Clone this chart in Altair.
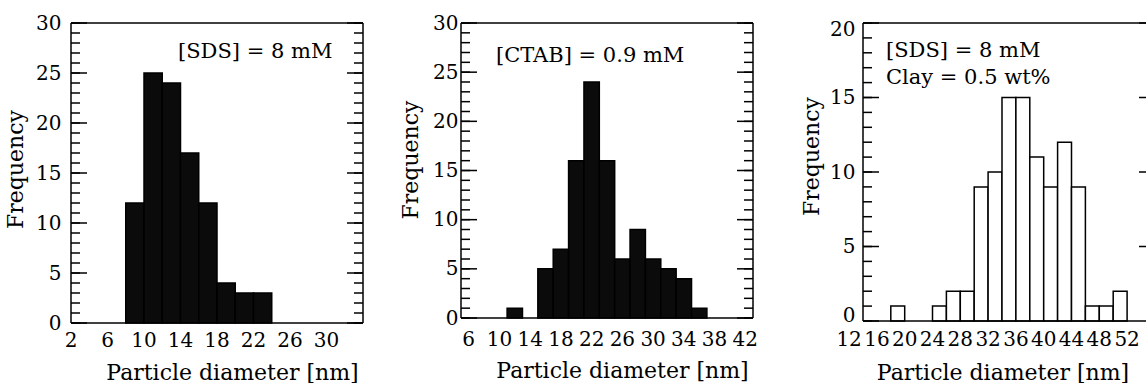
import altair as alt
import pandas as pd

FONT = "DejaVu Serif"

# ---- data ----
bin_width = 2
p1_bin_start = [8, 10, 12, 14, 16, 18, 20, 22]
p1_freq = [12, 25, 24, 17, 12, 4, 3, 3]
p2_bin_start = [11, 15, 17, 19, 21, 23, 25, 27, 29, 31, 33, 35]
p2_freq = [1, 5, 7, 16, 24, 16, 6, 9, 6, 5, 4, 1]
p3_bin_start = [18, 24, 26, 28, 30, 32, 34, 36, 38, 40, 42, 44, 46, 48, 50]
p3_freq = [1, 1, 2, 2, 9, 10, 15, 15, 11, 9, 12, 9, 1, 1, 2]

p1_xticks = [2, 6, 10, 14, 18, 22, 26, 30]
p2_xticks = [6, 10, 14, 18, 22, 26, 30, 34, 38, 42]
p3_xticks = [12, 16, 20, 24, 28, 32, 36, 40, 44, 48, 52]
y30_major = [0, 5, 10, 15, 20, 25, 30]
y30_minor = list(range(0, 31))
y20_major = [0, 5, 10, 15, 20]
y20_minor = list(range(0, 21))

p1_notes = ["[SDS] = 8 mM"]
p2_notes = ["[CTAB] = 0.9 mM"]
p3_notes = ["[SDS] = 8 mM", "Clay = 0.5 wt%"]


def panel(starts, freqs, xdomain, ydomain, xticks, ymajor, yminor, width, height,
          fill, notes, note_x, note_y, xlabel_dy, label_pad, ytitle_pad, ytitle_shift,
          xtitle_pad, xtitle_shift, right_full=True, flush=False):
    xs = alt.Scale(domain=xdomain, nice=False, zero=False)
    ys = alt.Scale(domain=ydomain, nice=False)
    xaxis = alt.Axis(title="Particle diameter [nm]", labels=False,
                     ticks=False, tickSize=0, domain=False, grid=False,
                     titlePadding=xtitle_pad, titleX=width / 2 + xtitle_shift)
    yopts = dict(title="Frequency", values=ymajor, format="d",
                 ticks=False, tickSize=0, labelPadding=label_pad,
                 domain=False, grid=False, titlePadding=ytitle_pad,
                 titleY=height / 2 + ytitle_shift)
    if flush:
        yopts.update(labelFlush=True, labelFlushOffset=4)
    yaxis = alt.Axis(**yopts)
    bars = (
        alt.Chart(pd.DataFrame({"start": starts, "freq": freqs}))
        .transform_calculate(end=f"datum.start + {bin_width}")
        .mark_bar(fill=fill, stroke="black", strokeWidth=1.5)
        .encode(
            x=alt.X("start:Q", scale=xs, axis=xaxis, title="Particle diameter [nm]"),
            x2="end:Q",
            y=alt.Y("freq:Q", scale=ys, axis=yaxis, title="Frequency"),
            y2=alt.datum(0),
        )
    )
    layers = [bars]
    minor_df = pd.DataFrame({"v": yminor})
    major_df = pd.DataFrame({"v": ymajor})

    def ticks(df, x0, x1):
        return alt.Chart(df).mark_rule(color="black", strokeWidth=1.5).encode(
            y=alt.Y("v:Q", scale=ys, axis=yaxis, title="Frequency"),
            x=alt.value(x0), x2=alt.value(x1))

    layers.append(ticks(minor_df, 0, 9))
    layers.append(ticks(major_df, 0, 16))
    if right_full:
        layers.append(ticks(minor_df, width - 9, width))
        layers.append(ticks(major_df, width - 16, width))
    else:
        layers.append(ticks(major_df[major_df.v > 0], width - 7, width))

    # x tick labels through the x scale
    layers.append(
        alt.Chart(pd.DataFrame({"v": xticks}))
        .mark_text(font=FONT, fontSize=20, baseline="middle", align="center", color="black")
        .encode(x=alt.X("v:Q", scale=xs, axis=xaxis, title="Particle diameter [nm]"),
                y=alt.value(height + xlabel_dy),
                text=alt.Text("v:Q", format="d"))
    )
    # frame
    frame = alt.Chart(pd.DataFrame({"a": [0]}))
    layers.append(frame.mark_rule(color="black", strokeWidth=1.5).encode(
        x=alt.value(0), x2=alt.value(width), y=alt.value(0)))
    layers.append(frame.mark_rule(color="black", strokeWidth=1.5).encode(
        x=alt.value(0), x2=alt.value(width), y=alt.value(height)))
    layers.append(frame.mark_rule(color="black", strokeWidth=1.5).encode(
        x=alt.value(0), y=alt.value(0), y2=alt.value(height)))
    if right_full:
        layers.append(frame.mark_rule(color="black", strokeWidth=1.5).encode(
            x=alt.value(width), y=alt.value(0), y2=alt.value(height)))
    # annotations
    for txt, ny in zip(notes, note_y):
        layers.append(
            alt.Chart(pd.DataFrame({"t": [txt]}))
            .mark_text(font=FONT, fontSize=21, align="left", baseline="alphabetic", color="black")
            .encode(x=alt.value(note_x), y=alt.value(ny), text="t:N")
        )
    return alt.layer(*layers).properties(width=width, height=height)


p1 = panel(p1_bin_start, p1_freq, [2, 34], [0, 30], p1_xticks, y30_major, y30_minor,
           292, 300, "#0b0b0b", p1_notes, 107, [35], 18, 10, 8, -4, 39, 15)
p2 = panel(p2_bin_start, p2_freq, [5, 43], [0, 30], p2_xticks, y30_major, y30_minor,
           292, 295, "#0b0b0b", p2_notes, 35, [39], 22, 3, 10, -11, 42, 15)
p3 = panel(p3_bin_start, p3_freq, [14, 54.72], [0, 20], p3_xticks, y20_major, y20_minor,
           283, 298, "white", p3_notes, 23, [34, 61], 19, 8, 6, -16, 41, -2,
           right_full=False, flush=True)


def spacer(w):
    return alt.Chart(pd.DataFrame({"a": [0]})).mark_point(opacity=0).encode(
        x=alt.value(0), y=alt.value(0)).properties(width=w, height=10)


chart = (
    alt.hconcat(p1, spacer(98), p2, spacer(110), p3, spacing=0, bounds="flush")
    .properties(padding={"left": 4, "top": 13, "right": 0, "bottom": 0},
                background="white")
    .configure_view(strokeWidth=0)
    .configure_axis(labelFont=FONT, labelFontSize=20, labelColor="black",
                    titleFont=FONT, titleFontSize=22, titleColor="black",
                    titleFontWeight="normal")
)

chart.save("out.html", embed_options={"renderer": "svg", "actions": False})
